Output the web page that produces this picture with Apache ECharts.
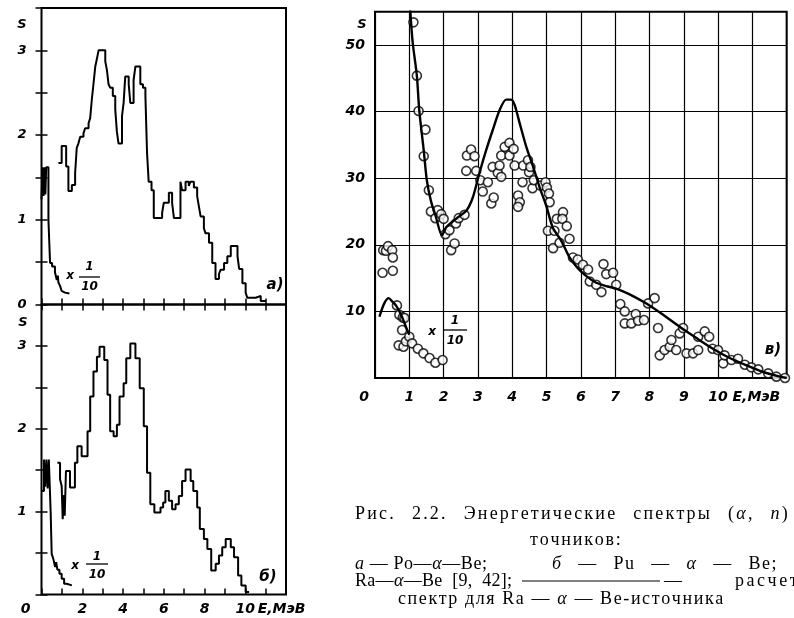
<!DOCTYPE html>
<html><head><meta charset="utf-8">
<script src="https://cdn.jsdelivr.net/npm/echarts@6/dist/echarts.min.js"></script>
<style>html,body{margin:0;padding:0;background:#fff}#c{width:794px;height:618px}</style>
</head><body><div id="c"></div>
<script>
// ---- Panel a (Po-α-Be), step spectrum ----
const aMainE = [0.83,0.99,1.21,1.32,1.49,1.65,1.73,1.81,1.90,2.06,2.14,2.31,2.39,2.47,2.55,2.64,2.72,2.80,3.13,3.21,3.29,3.37,3.50,3.62,3.70,3.78,3.95,4.03,4.11,4.28,4.36,4.52,4.61,4.85,4.98,5.10,5.18,5.26,5.40,5.51,5.92,6.00,6.25,6.41,6.50,6.82,6.90,7.07,7.23,7.31,7.48,7.64,7.73,7.81,7.97,8.05,8.22,8.38,8.54,8.71,8.79,8.96,9.12,9.29,9.62,9.70,9.86,10.02,10.10,10.51,10.76,11.01];
const aMainS = [1.67,1.87,1.63,1.34,1.41,1.55,1.85,1.90,1.98,2.02,2.08,2.14,2.20,2.42,2.60,2.81,2.90,3.00,2.87,2.77,2.60,2.56,2.46,2.30,2.04,1.90,2.22,2.38,2.69,2.60,2.38,2.65,2.81,2.60,2.56,2.46,1.79,1.45,1.35,1.02,1.08,1.20,1.32,1.20,1.02,1.45,1.35,1.45,1.40,1.45,1.38,1.28,1.15,1.04,0.90,0.84,0.73,0.49,0.30,0.36,0.41,0.49,0.57,0.69,0.57,0.42,0.25,0.14,0.08,0.10,0.04,0.04];
const aLowE = [0,0.06,0.10,0.14,0.19,0.23,0.34,0.42,0.52,0.66,0.71,0.75,0.80,0.83,0.91,0.99,1.07,1.15,1.37];
const aLowS = [1.24,1.62,1.28,1.62,1.30,1.62,1.00,0.49,0.45,0.38,0.33,0.29,0.34,0.26,0.22,0.16,0.14,0.13,0.13];
// ---- Panel б (Pu-α-Be) ----
const bMainE = [0.78,0.91,0.99,1.04,1.10,1.14,1.20,1.40,1.64,1.76,1.97,2.26,2.39,2.55,2.72,2.85,3.08,3.24,3.37,3.54,3.70,3.83,4.03,4.16,4.36,4.61,4.82,5.02,5.18,5.34,5.54,5.84,5.97,6.08,6.25,6.41,6.58,6.74,6.90,7.07,7.32,7.45,7.64,7.77,7.97,8.14,8.33,8.55,8.71,8.87,9.04,9.29,9.45,9.65,9.81,10.02,10.19];
const bMainS = [1.59,1.39,1.31,0.91,1.20,0.95,1.49,1.29,1.59,1.79,1.67,1.97,2.39,2.69,2.87,2.99,2.83,2.41,1.97,1.91,2.05,2.39,2.55,2.85,3.03,2.85,2.49,2.03,1.47,1.09,0.99,1.05,1.11,1.25,1.13,1.03,1.09,1.19,1.37,1.51,1.37,1.25,1.05,0.79,0.67,0.55,0.29,0.37,0.47,0.57,0.67,0.57,0.45,0.23,0.11,0.03,0.03];
const bLowE = [0,0.12,0.18,0.24,0.30,0.36,0.45,0.50,0.58,0.67,0.72,0.78,0.88,0.99,1.11,1.24,1.49];
const bLowS = [1.25,1.63,1.30,1.63,1.28,1.63,0.99,0.49,0.43,0.33,0.39,0.30,0.25,0.19,0.13,0.11,0.11];
// ---- Panel в (Ra-α-Be) ----
const cPtsE = [1.12,1.22,1.27,1.47,1.42,1.57,1.63,1.76,1.83,1.93,2.00,2.05,2.17,2.22,2.32,2.36,2.44,2.61,2.66,2.68,2.80,2.90,2.95,3.07,3.14,3.29,3.39,3.46,3.43,3.58,3.63,3.68,3.68,3.78,3.92,3.92,4.04,4.07,4.17,4.22,4.17,4.30,4.32,4.46,4.49,4.53,4.59,4.63,4.82,4.97,5.01,5.07,5.09,5.04,5.19,5.23,5.30,5.48,5.46,5.59,5.67,5.38,5.77,5.91,6.06,6.21,6.26,6.45,6.60,6.66,6.74,6.94,7.03,7.15,7.28,7.28,7.47,7.60,7.67,7.84,7.96,8.15,8.25,8.30,8.44,8.59,8.64,8.78,8.88,8.98,9.08,9.27,9.42,9.42,9.61,9.74,9.84,10.00,10.15,10.19,10.39,10.58,10.78,10.97,11.17,11.46,11.70,11.95];
const cPtsS = [53.4,45.4,40.1,37.3,33.3,28.2,25.0,24.0,25.2,24.6,23.9,21.6,22.2,19.2,20.2,23.2,24.0,24.5,31.1,33.4,34.3,33.3,31.1,29.7,28.0,29.4,26.2,27.1,31.7,30.8,31.9,30.2,33.4,34.7,35.3,33.4,34.4,31.9,27.4,26.4,25.7,29.4,31.9,32.7,30.9,31.7,28.5,29.7,28.9,29.4,28.6,27.7,26.4,22.1,19.5,22.1,23.9,24.9,23.9,22.8,20.9,20.3,18.1,17.8,17.0,16.3,14.5,14.0,12.9,17.1,15.6,15.8,14.0,11.1,10.0,8.2,8.2,9.6,8.6,8.7,11.2,12.0,7.5,3.4,4.2,4.7,5.7,4.2,6.7,7.5,3.7,3.7,4.2,6.2,7.0,6.2,4.4,4.2,2.2,3.4,2.7,2.9,2.0,1.6,1.3,0.7,0.2,0.0];
const cLowPtsE = [0.22,0.24,0.32,0.38,0.50,0.52,0.52,0.64,0.71,0.81,0.86,0.79,0.69,0.83,0.90,1.00,1.08,1.25,1.41,1.59,1.76,1.97];
const cLowPtsS = [15.8,19.2,19.1,19.8,19.2,18.1,16.1,10.9,9.5,9.1,9.0,7.2,4.9,4.7,5.5,6.2,5.2,4.4,3.7,3.0,2.3,2.7];
const cCurveE = [0.98,1.03,1.10,1.22,1.29,1.42,1.51,1.63,1.78,1.95,2.07,2.36,2.66,2.85,3.04,3.24,3.43,3.63,3.82,3.97,4.07,4.22,4.41,4.61,4.80,4.99,5.18,5.43,5.67,5.91,6.16,6.45,6.74,6.98,7.23,7.52,7.91,8.40,8.88,9.37,9.85,10.34,10.83,11.32,11.80,12.0];
const cCurveS = [60,55,50.3,45.4,40.2,34.2,29.7,26.6,24.1,21.4,22.6,23.9,25.1,27.1,30.7,34.2,37.2,40.2,41.8,41.8,41.0,38.2,34.7,31.7,28.6,25.9,22.6,20.6,18.1,16.5,15.3,14.3,13.8,13.5,13.0,12.3,11.2,9.5,7.7,6.0,4.4,3.0,1.9,0.9,0.2,0.0];
const cLowCurveE = [0.13,0.27,0.40,0.50,0.61,0.76,0.90,1.00];
const cLowCurveS = [9.2,11.2,12.0,11.5,10.9,9.5,7.7,6.5];
const leftXTicks = ['0','','2','','4','','6','','8','','10','E,МэВ',''];
const rightXTicks = ['0','1','2','3','4','5','6','7','8','9','10','E,МэВ',''];

const zip = (e, s) => e.map((v, i) => [v, s[i]]);
const K = '#000';
const SANS = 'DejaVu Sans';
const labFont = {fontFamily:SANS, fontStyle:'italic', fontWeight:'bold', fontSize:13, color:K};

function xAx(grid, pos, opts) {
  return Object.assign({type:'value', gridIndex:grid, position:pos, min:0, max:12, interval:1,
    axisLine:{show:false}, splitLine:{show:false},
    axisTick:{show:true, inside:true, length:6, lineStyle:{color:K, width:1.5}},
    axisLabel:{show:false}}, opts || {});
}
function yAx(grid, pos, opts) {
  return Object.assign({type:'value', gridIndex:grid, position:pos, min:0, max:3.5, interval:0.5,
    axisLine:{show:false}, splitLine:{show:false},
    axisTick:{show:true, inside:true, length:6, lineStyle:{color:K, width:1.5}},
    axisLabel:{show:false}}, opts || {});
}
const leftYLab = (skip0) => ({show:true, margin:15, ...labFont,
  formatter: v => (v % 1 === 0 && !(skip0 && v === 0)) ? String(v) : ''});
const xLabLeft = {show:true, margin:8, ...labFont, fontSize:14,
  formatter: v => { const t = leftXTicks[Math.round(v)]; if (v === 0) return '{z|0}'; if (t === 'E,МэВ') return '{e|E,МэВ}'; return t; },
  rich:{z:{...labFont, fontSize:14, padding:[0,32,0,0]}, e:{...labFont, fontSize:14, padding:[0,0,0,32]}}};
const xLabRight = {show:true, margin:12, ...labFont, fontSize:14,
  formatter: v => { const t = rightXTicks[Math.round(v)]; if (v === 0) return '{z|0}'; if (t === 'E,МэВ') return '{e|E,МэВ}'; return t; },
  rich:{z:{...labFont, fontSize:14, padding:[0,22,0,0]}, e:{...labFont, fontSize:14, padding:[0,0,0,8]}}};

const stepLine = (data, xi, yi) => ({type:'line', data, xAxisIndex:xi, yAxisIndex:yi, step:'end', showSymbol:false,
  lineStyle:{color:K, width:2}, animation:false, silent:true});

// caption typesetting: tracked, justified pieces (extra width goes into the word spaces)
const SERIF = 'Liberation Serif';
const mctx = document.createElement('canvas').getContext('2d');
function fitText(segs, x0, x1, y, fs, ls) {
  ls = ls == null ? 1.0 : ls;
  const chars = [];
  segs.forEach(([s, it]) => { for (const ch of s) chars.push([ch, it]); });
  const w = chars.map(([ch, it]) => { mctx.font = (it ? 'italic ' : '') + fs + 'px "' + SERIF + '"'; return mctx.measureText(ch).width + ls; });
  const total = w.reduce((a, b) => a + b, 0);
  const nSp = chars.filter(c => c[0] === ' ').length;
  let extra = 0;
  if (x1 != null && nSp > 0) extra = Math.max(0, (x1 - x0 - total) / nSp);
  let x = x0; const out = [];
  chars.forEach(([ch, it], i) => {
    if (ch !== ' ') out.push({type:'text', x, y, silent:true, style:{text:ch, fontFamily:SERIF, fontStyle:it ? 'italic' : 'normal', fontSize:fs, fill:K, textAlign:'left', textVerticalAlign:'middle'}});
    x += w[i] + (ch === ' ' ? extra : 0);
  });
  return out;
}
function lab(x, y, text, size) {
  return {type:'text', x, y, style:{text, fontFamily:SANS, fontStyle:'italic', fontWeight:'bold', fontSize:size || 13, fill:K, textAlign:'center', textVerticalAlign:'middle'}};
}
function frac(xx, y1, xb1, xb2, yb, y2) {
  return [lab(xx[0], xx[1], 'x', 12), lab(xb1 + (xb2 - xb1) / 2, y1, '1', 12),
    {type:'line', shape:{x1:xb1, y1:yb, x2:xb2, y2:yb}, style:{stroke:K, lineWidth:1.3}},
    lab(xb1 + (xb2 - xb1) / 2, y2, '10', 12)];
}

const option = {
  backgroundColor:'#fff', animation:false,
  grid:[
    {left:41.5, top:8, width:244.5, height:296.5, show:true, borderColor:K, borderWidth:2, backgroundColor:'transparent'},
    {left:41.5, top:304.5, width:244.5, height:290, show:true, borderColor:K, borderWidth:2, backgroundColor:'transparent'},
    {left:375, top:11.7, width:411.7, height:366.3, show:true, borderColor:K, borderWidth:2, backgroundColor:'transparent'}
  ],
  xAxis:[
    xAx(0,'bottom'), xAx(0,'top'),
    xAx(1,'bottom',{axisLabel:xLabLeft}), xAx(1,'top',{axisTick:{show:false}}),
    {type:'value', gridIndex:2, min:0, max:12, interval:1, axisLine:{show:false}, axisTick:{show:false},
     splitLine:{show:true, lineStyle:{color:K, width:1.2}}, axisLabel:xLabRight}
  ],
  yAxis:[
    yAx(0,'left',{axisLabel:leftYLab(false)}), yAx(0,'right'),
    yAx(1,'left',{axisLabel:leftYLab(true)}), yAx(1,'right'),
    {type:'value', gridIndex:2, min:0, max:55, interval:10, axisLine:{show:false}, axisTick:{show:false},
     splitLine:{show:true, lineStyle:{color:K, width:1.2}},
     axisLabel:{show:true, margin:10, ...labFont, fontSize:14, showMaxLabel:false, formatter: v => v === 0 || v > 50 ? '' : String(v)}}
  ],
  series:[
    stepLine(zip(aMainE, aMainS), 0, 0),
    stepLine(zip(aLowE, aLowS), 0, 0),
    stepLine(zip(bMainE, bMainS), 2, 2),
    stepLine(zip(bLowE, bLowS), 2, 2),
    {type:'line', data:zip(cCurveE, cCurveS), xAxisIndex:4, yAxisIndex:4, smooth:0.25, showSymbol:false, lineStyle:{color:K, width:2.4}, silent:true},
    {type:'line', data:zip(cLowCurveE, cLowCurveS), xAxisIndex:4, yAxisIndex:4, smooth:0.3, showSymbol:false, lineStyle:{color:K, width:2.4}, silent:true},
    {type:'scatter', data:zip(cPtsE, cPtsS), xAxisIndex:4, yAxisIndex:4, symbol:'circle', symbolSize:9, itemStyle:{color:'#fff', borderColor:K, borderWidth:1.6}, silent:true},
    {type:'scatter', data:zip(cLowPtsE, cLowPtsS), xAxisIndex:4, yAxisIndex:4, symbol:'circle', symbolSize:9, itemStyle:{color:'#fff', borderColor:K, borderWidth:1.6}, silent:true}
  ],
  graphic:[
    lab(22, 25, 'S', 13), lab(23, 323, 'S', 13), lab(362, 25, 'S', 13),
    lab(275, 285, 'a)', 15), lab(268, 577, 'б)', 15), lab(773, 350, 'в)', 15),
    ...frac([70,276], 267, 79, 100, 277, 287),
    ...frac([75,566], 557, 86, 108, 564, 575),
    ...frac([432,332], 321, 443, 467, 330, 341),
    // caption
    ...fitText([['Рис. 2.2. Энергетические спектры (',0],['α',1],[', ',0],['n',1],[')',0]], 355, 790, 514, 18, 2.2),
    ...fitText([['точников:',0]], 530, null, 540, 18, 1.8),
    ...fitText([['a',1],[' — Po—',0],['α',1],['—Be;',0]], 355, null, 564, 18, 0.6),
    ...fitText([['б',1],[' — Pu — ',0],['α',1],[' — Be; ',0],['в',1]], 552, 803, 564, 18, 1.5),
    ...fitText([['Ra—',0],['α',1],['—Be  [9,  42];',0]], 355, null, 581, 18, 0.3),
    {type:'line', shape:{x1:522, y1:581, x2:660, y2:581}, style:{stroke:K, lineWidth:1.2}},
    ...fitText([['— расчет',0]], 664, 800, 581, 18, 2.5),
    ...fitText([['спектр для Ra — ',0],['α',1],[' — Be-источника',0]], 398, 720, 599, 18, 1.6)
  ]
};
echarts.init(document.getElementById('c'), null, {renderer:'canvas'}).setOption(option);
</script></body></html>
